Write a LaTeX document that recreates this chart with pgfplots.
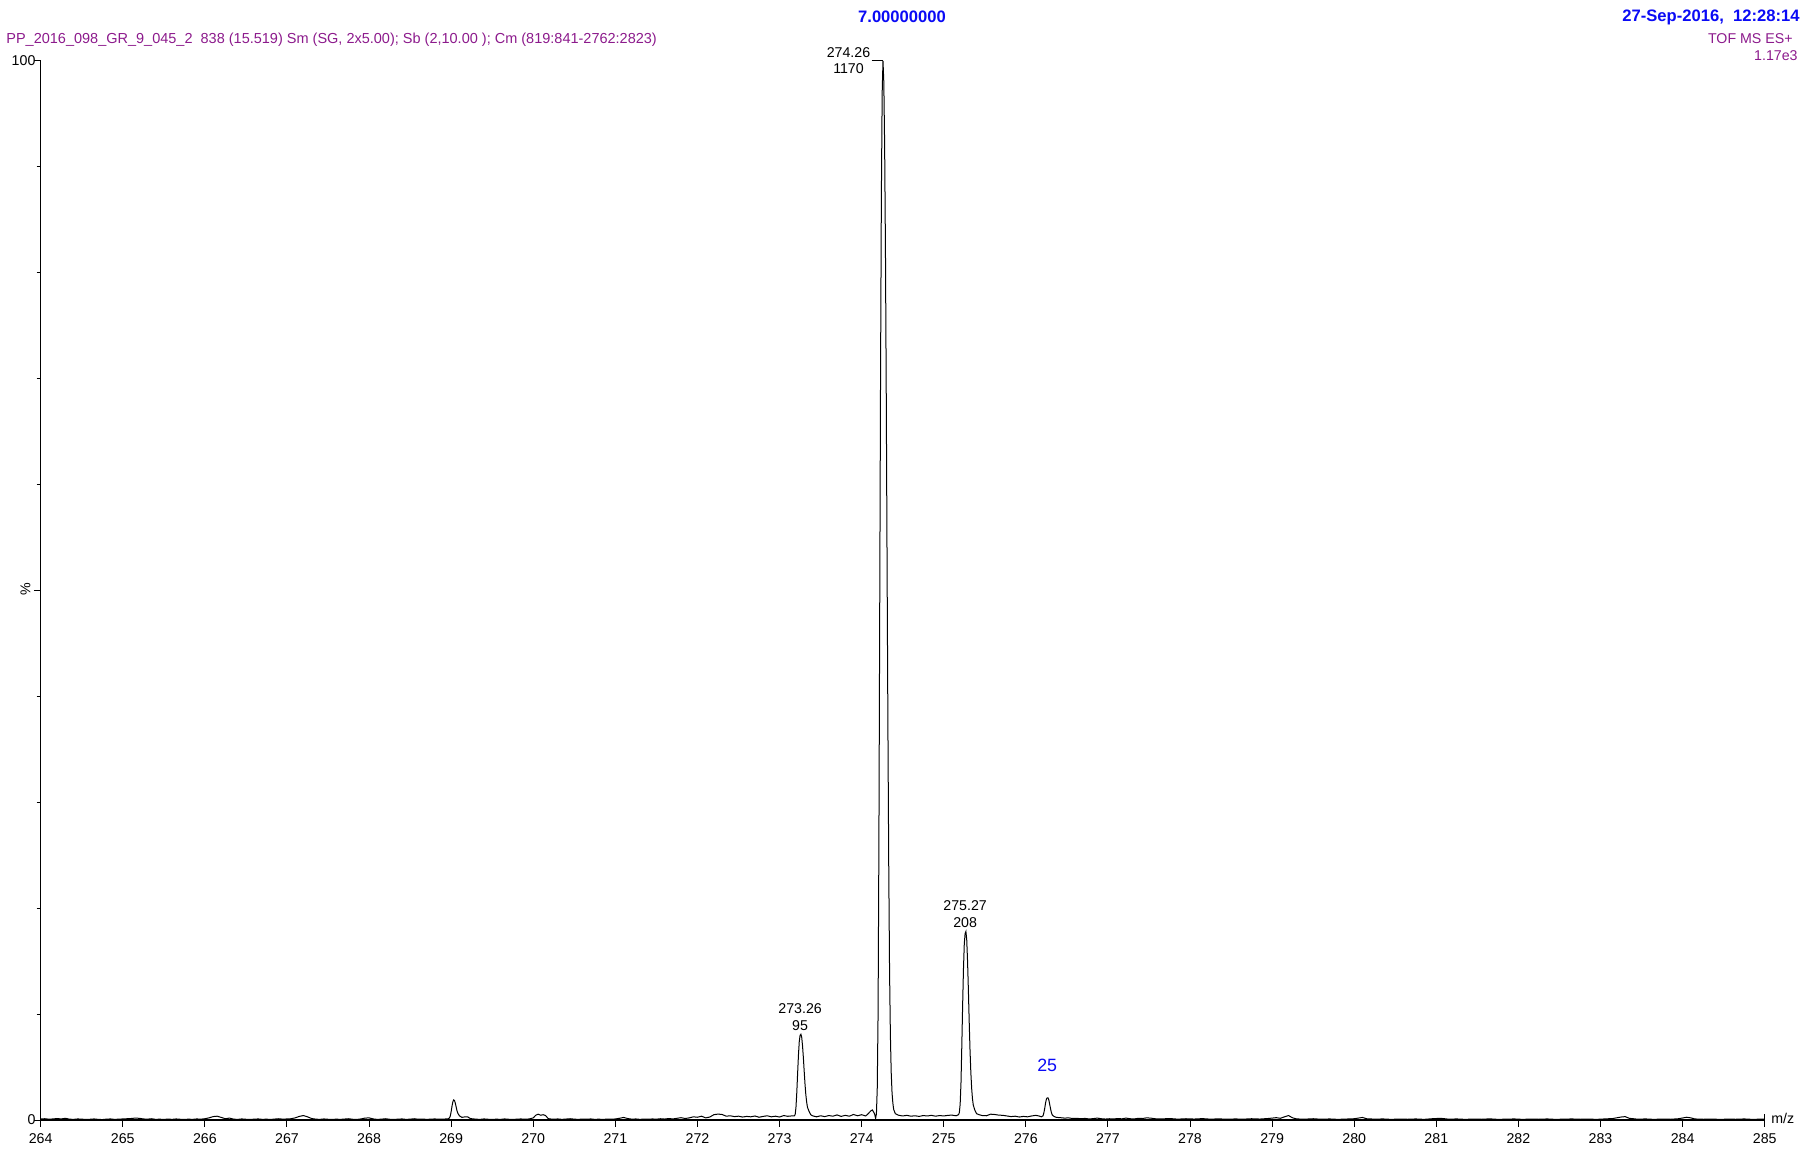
\documentclass[border=0pt]{standalone}
\usepackage{fontspec}
\setmainfont{Liberation Sans}
\usepackage{pgfplots}
\pgfplotsset{compat=1.18}
\definecolor{hdrpurple}{RGB}{140,26,140}
\definecolor{hdrblue}{RGB}{10,10,245}
\newcommand{\fs}{\fontsize{7.1pt}{8.5pt}\selectfont}
\newcommand{\fh}{\fontsize{7.25pt}{8.5pt}\selectfont}
\newcommand{\fb}{\fontsize{8.3pt}{10pt}\selectfont\bfseries}

\begin{document}
\begin{tikzpicture}
% page = 1817 x 1152 px at 0.5pt per px, axis box at (0,0)
\path[use as bounding box] (-20.35pt,-16pt) rectangle (888.15pt,560pt);
\begin{axis}[
  at={(0,0)}, anchor=south west,
  width=862pt, height=529.5pt, scale only axis,
  xmin=264, xmax=285, ymin=0, ymax=100,
  axis x line=bottom, axis y line=left,
  axis line style={-, line width=0.6pt},
  xtick={264,...,285},
  ytick={0,50,100}, yticklabels={0,,100},
  minor ytick={10,20,30,40,60,70,80,90},
  tick align=outside, major tick length=3.4pt, minor tick length=2pt,
  tick style={black, line width=0.5pt},
  /pgf/number format/assume math mode=true,
  ticklabel style={font=\fs},
  yticklabel style={xshift=4.3pt},
  clip=false,
]

% spectrum (% of base peak, m/z)
\addplot[black, line width=0.5pt] coordinates {
(264.00,0.10) (264.05,0.12) (264.10,0.08) (264.15,0.10) (264.20,0.14) (264.25,0.10)
(264.30,0.16) (264.35,0.08) (264.40,0.06) (264.45,0.10) (264.50,0.08) (264.55,0.05)
(264.60,0.07) (264.65,0.10) (264.70,0.06) (264.75,0.04) (264.80,0.08) (264.85,0.10)
(264.90,0.06) (264.95,0.08) (265.00,0.10) (265.05,0.12) (265.10,0.14) (265.15,0.18)
(265.20,0.16) (265.25,0.10) (265.30,0.08) (265.35,0.12) (265.40,0.06) (265.45,0.08)
(265.50,0.05) (265.55,0.09) (265.60,0.06) (265.65,0.10) (265.70,0.07) (265.75,0.05)
(265.80,0.08) (265.85,0.06) (265.90,0.10) (265.95,0.08) (266.00,0.12) (266.05,0.20)
(266.10,0.32) (266.15,0.36) (266.20,0.24) (266.25,0.12) (266.30,0.18) (266.35,0.08)
(266.40,0.06) (266.45,0.10) (266.50,0.07) (266.55,0.05) (266.60,0.08) (266.65,0.10)
(266.70,0.06) (266.75,0.08) (266.80,0.05) (266.85,0.09) (266.90,0.12) (266.95,0.08)
(267.00,0.10) (267.05,0.12) (267.10,0.20) (267.15,0.34) (267.20,0.42) (267.25,0.30)
(267.30,0.14) (267.35,0.08) (267.40,0.06) (267.45,0.10) (267.50,0.07) (267.55,0.05)
(267.60,0.08) (267.65,0.06) (267.70,0.09) (267.75,0.12) (267.80,0.07) (267.85,0.05)
(267.90,0.10) (267.95,0.18) (268.00,0.20) (268.05,0.10) (268.10,0.06) (268.15,0.08)
(268.20,0.12) (268.25,0.07) (268.30,0.05) (268.35,0.08) (268.40,0.10) (268.45,0.06)
(268.50,0.08) (268.55,0.12) (268.60,0.07) (268.65,0.09) (268.70,0.06) (268.75,0.08)
(268.80,0.10) (268.85,0.07) (268.90,0.09)
(268.96,0.10) (268.98,0.20) (268.99,0.40) (269.00,0.80) (269.01,1.30) (269.02,1.70)
(269.03,1.90) (269.04,1.85) (269.05,1.60) (269.06,1.25) (269.07,0.90) (269.08,0.65)
(269.10,0.40) (269.13,0.25) (269.17,0.30) (269.20,0.30) (269.23,0.15)
(269.25,0.12) (269.30,0.08) (269.35,0.06) (269.40,0.10) (269.45,0.07) (269.50,0.05)
(269.55,0.08) (269.60,0.06) (269.65,0.10) (269.70,0.07) (269.75,0.05) (269.80,0.08)
(269.85,0.10) (269.90,0.07) (269.95,0.10) (270.00,0.20) (270.03,0.45) (270.06,0.55)
(270.09,0.45) (270.12,0.50) (270.15,0.42) (270.18,0.15) (270.20,0.10) (270.25,0.08)
(270.30,0.10) (270.35,0.06) (270.40,0.09) (270.45,0.12) (270.50,0.08) (270.55,0.06)
(270.60,0.09) (270.65,0.07) (270.70,0.10) (270.75,0.06) (270.80,0.08) (270.85,0.05)
(270.90,0.09) (270.95,0.07) (271.00,0.10) (271.05,0.16) (271.10,0.24) (271.15,0.14)
(271.20,0.08) (271.25,0.10) (271.30,0.06) (271.35,0.09) (271.40,0.07) (271.45,0.10)
(271.50,0.08) (271.55,0.12) (271.60,0.09) (271.65,0.14) (271.70,0.10) (271.75,0.16)
(271.80,0.22) (271.85,0.14) (271.90,0.20) (271.95,0.30) (272.00,0.26) (272.05,0.36)
(272.10,0.20) (272.15,0.28) (272.20,0.50) (272.25,0.56) (272.30,0.52) (272.35,0.36)
(272.40,0.40) (272.45,0.32) (272.50,0.36) (272.55,0.28) (272.60,0.34) (272.65,0.30)
(272.70,0.38) (272.75,0.26) (272.80,0.34) (272.85,0.40) (272.90,0.30) (272.95,0.36)
(273.00,0.28) (273.05,0.42) (273.10,0.35) (273.14,0.38)
(273.18,0.40) (273.19,0.50) (273.20,1.20) (273.21,2.60) (273.22,4.40) (273.23,6.10)
(273.24,7.40) (273.25,8.00) (273.26,8.10) (273.27,7.80) (273.28,7.00) (273.29,5.90)
(273.30,4.60) (273.31,3.40) (273.32,2.40) (273.33,1.70) (273.34,1.20) (273.36,0.80)
(273.38,0.50) (273.40,0.40)
(273.45,0.30) (273.50,0.40) (273.55,0.32) (273.60,0.42) (273.65,0.36) (273.70,0.48)
(273.75,0.34) (273.80,0.44) (273.85,0.36) (273.90,0.52) (273.95,0.40) (274.00,0.50)
(274.05,0.38) (274.08,0.60) (274.11,0.85) (274.13,0.95) (274.15,0.70) (274.16,0.50)
(274.17,0.15)
(274.18,0.60) (274.19,3.00) (274.20,10.0) (274.21,26.0) (274.22,48.0) (274.23,70.0)
(274.24,87.0) (274.25,97.0) (274.26,100.0) (274.27,98.0) (274.28,92.0) (274.29,82.0)
(274.30,68.0) (274.31,52.0) (274.32,37.0) (274.33,24.0) (274.34,14.0) (274.35,8.00)
(274.36,4.50) (274.37,2.60) (274.38,1.60) (274.39,1.00) (274.41,0.60)
(274.45,0.45) (274.50,0.38) (274.55,0.44) (274.60,0.36) (274.65,0.40) (274.70,0.34)
(274.75,0.42) (274.80,0.38) (274.85,0.44) (274.90,0.36) (274.95,0.42) (275.00,0.38)
(275.05,0.44) (275.10,0.46) (275.15,0.40)
(275.18,0.50) (275.19,0.70) (275.20,1.50) (275.21,3.50) (275.22,7.00) (275.23,10.8)
(275.24,14.2) (275.25,16.6) (275.26,17.6) (275.27,17.8) (275.28,17.0) (275.29,15.0)
(275.30,12.3) (275.31,9.30) (275.32,6.60) (275.33,4.50) (275.34,3.00) (275.35,2.00)
(275.36,1.40) (275.38,0.90) (275.40,0.60) (275.43,0.50)
(275.47,0.42) (275.52,0.40) (275.57,0.55) (275.62,0.52) (275.67,0.46) (275.72,0.44)
(275.77,0.38) (275.82,0.32) (275.87,0.36) (275.92,0.28) (275.97,0.34) (276.02,0.30)
(276.07,0.38) (276.12,0.44) (276.16,0.38)
(276.19,0.30) (276.21,0.40) (276.22,0.70) (276.23,1.10) (276.24,1.60) (276.25,1.95)
(276.26,2.10) (276.27,2.10) (276.28,1.90) (276.29,1.50) (276.30,1.10) (276.31,0.75)
(276.32,0.50) (276.34,0.35) (276.37,0.25)
(276.42,0.22) (276.47,0.18) (276.52,0.20) (276.57,0.14) (276.62,0.16) (276.67,0.12)
(276.72,0.15) (276.77,0.10) (276.82,0.13) (276.87,0.18) (276.92,0.12) (276.97,0.09)
(277.02,0.12) (277.07,0.10) (277.12,0.14) (277.17,0.11) (277.22,0.18) (277.27,0.12)
(277.32,0.10) (277.37,0.16) (277.42,0.14) (277.47,0.20) (277.52,0.18) (277.57,0.12)
(277.65,0.10) (277.75,0.14) (277.85,0.08) (277.95,0.12) (278.05,0.09) (278.15,0.13)
(278.25,0.08) (278.35,0.11) (278.45,0.07) (278.55,0.10) (278.65,0.08) (278.75,0.12)
(278.85,0.09) (278.95,0.14) (279.05,0.22) (279.10,0.16) (279.15,0.30) (279.20,0.42)
(279.25,0.20) (279.30,0.10) (279.40,0.08) (279.50,0.12) (279.60,0.07) (279.70,0.10)
(279.80,0.06) (279.90,0.09) (280.00,0.12) (280.10,0.24) (280.15,0.12) (280.25,0.08)
(280.35,0.10) (280.45,0.06) (280.55,0.09) (280.65,0.07) (280.75,0.10) (280.85,0.06)
(280.95,0.12) (281.05,0.16) (281.15,0.08) (281.25,0.10) (281.35,0.06) (281.45,0.09)
(281.55,0.07) (281.65,0.11) (281.75,0.06) (281.85,0.08) (281.95,0.10) (282.05,0.06)
(282.15,0.09) (282.25,0.07) (282.35,0.10) (282.45,0.06) (282.55,0.08) (282.65,0.10)
(282.75,0.07) (282.85,0.09) (282.95,0.06) (283.05,0.10) (283.15,0.14) (283.25,0.28)
(283.30,0.32) (283.35,0.16) (283.45,0.08) (283.55,0.10) (283.65,0.06) (283.75,0.09)
(283.85,0.07) (283.95,0.12) (284.05,0.26) (284.10,0.20) (284.15,0.10) (284.25,0.07)
(284.35,0.09) (284.45,0.06) (284.55,0.08) (284.65,0.07) (284.75,0.10) (284.85,0.06)
(284.95,0.08) (285.00,0.07)
};

% peak annotations
\draw[line width=0.5pt] (axis cs:274.12,100) -- (axis cs:274.26,100);
\draw[line width=0.5pt] (axis cs:285,0) -- (axis cs:285,0.55);
\node[font=\fs, inner sep=0pt] at (axis cs:273.84,100.75) {274.26};
\node[font=\fs, inner sep=0pt] at (axis cs:273.84,99.3) {1170};
\node[font=\fs, inner sep=0pt] at (axis cs:273.25,10.5) {273.26};
\node[font=\fs, inner sep=0pt] at (axis cs:273.25,8.9) {95};
\node[font=\fs, inner sep=0pt] at (axis cs:275.26,20.2) {275.27};
\node[font=\fs, inner sep=0pt] at (axis cs:275.26,18.6) {208};
\node[font=\fontsize{8.9pt}{10pt}\selectfont, text=hdrblue, inner sep=0pt] at (axis cs:276.26,5.2) {25};
\end{axis}

% header and axis captions
\node[anchor=west, text=hdrpurple, font=\fh, inner sep=0pt] at (-17.35pt,540.3pt)
  {PP\_2016\_098\_GR\_9\_045\_2\ \ 838 (15.519) Sm (SG, 2x5.00); Sb (2,10.00 ); Cm (819:841-2762:2823)};
\node[text=hdrblue, font=\fb, inner sep=0pt] at (430.65pt,551.5pt) {7.00000000};
\node[anchor=east, text=hdrblue, font=\fb, inner sep=0pt] at (879.65pt,551.5pt) {27-Sep-2016,\ \ 12:28:14};
\node[anchor=east, text=hdrpurple, font=\fs, inner sep=0pt] at (876.15pt,540.8pt) {TOF MS ES+};
\node[anchor=east, text=hdrpurple, font=\fs, inner sep=0pt] at (878.65pt,532.3pt) {1.17e3};
\node[rotate=90, font=\fs, inner sep=0pt] at (-7.6pt,265.5pt) {\%};
\node[anchor=west, font=\fs, inner sep=0pt] at (865.15pt,1pt) {m/z};
\end{tikzpicture}
\end{document}
